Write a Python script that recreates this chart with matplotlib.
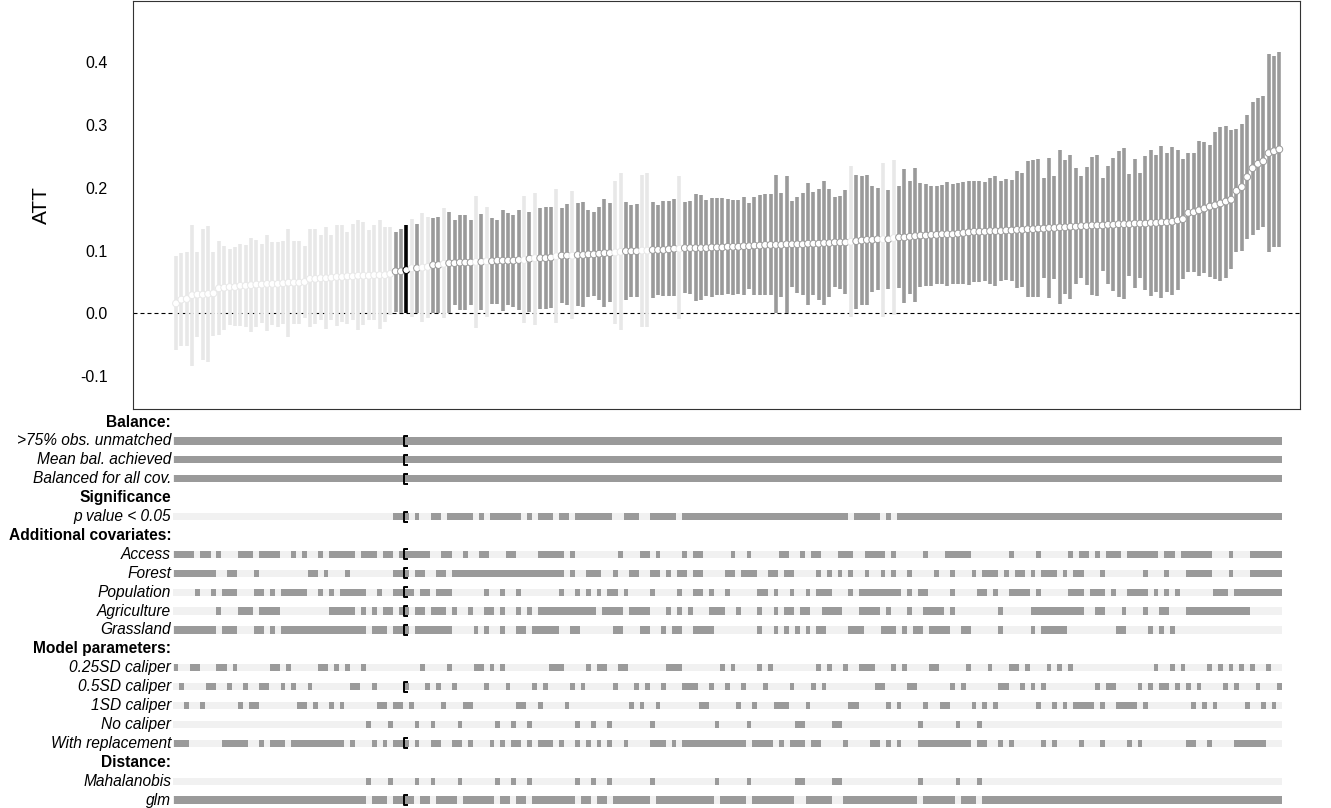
import numpy as np
import matplotlib.pyplot as plt
from matplotlib.path import Path

plt.rcParams["font.family"] = ["Liberation Sans", "DejaVu Sans"]
plt.rcParams["axes.unicode_minus"] = False

# ---- specification curve: ATT and 95% CI, sorted by estimate ----
att = [
    0.016, 0.022, 0.023, 0.029, 0.030, 0.030, 0.031, 0.032, 0.040, 0.041,
    0.042, 0.042, 0.044, 0.044, 0.045, 0.046, 0.046, 0.047, 0.047, 0.047,
    0.048, 0.049, 0.049, 0.049, 0.050, 0.055, 0.055, 0.056, 0.056, 0.057,
    0.058, 0.058, 0.059, 0.059, 0.060, 0.060, 0.060, 0.061, 0.061, 0.061,
    0.063, 0.067, 0.067, 0.069, 0.072, 0.072, 0.073, 0.074, 0.077, 0.077,
    0.079, 0.080, 0.080, 0.081, 0.081, 0.081, 0.082, 0.082, 0.083, 0.083,
    0.084, 0.084, 0.084, 0.084, 0.085, 0.085, 0.087, 0.088, 0.088, 0.088,
    0.089, 0.091, 0.092, 0.092, 0.092, 0.093, 0.093, 0.094, 0.094, 0.095,
    0.096, 0.096, 0.097, 0.098, 0.099, 0.099, 0.099, 0.100, 0.100, 0.101,
    0.101, 0.101, 0.102, 0.103, 0.103, 0.104, 0.104, 0.104, 0.104, 0.104,
    0.105, 0.105, 0.105, 0.106, 0.106, 0.106, 0.107, 0.107, 0.108, 0.108,
    0.109, 0.109, 0.109, 0.109, 0.110, 0.110, 0.110, 0.110, 0.111, 0.111,
    0.111, 0.112, 0.112, 0.113, 0.113, 0.113, 0.114, 0.115, 0.116, 0.117,
    0.117, 0.118, 0.118, 0.118, 0.120, 0.121, 0.121, 0.122, 0.123, 0.124,
    0.124, 0.125, 0.125, 0.126, 0.126, 0.126, 0.127, 0.128, 0.129, 0.130,
    0.130, 0.130, 0.131, 0.131, 0.131, 0.132, 0.132, 0.133, 0.133, 0.134,
    0.134, 0.135, 0.135, 0.136, 0.136, 0.137, 0.137, 0.138, 0.138, 0.139,
    0.139, 0.140, 0.140, 0.140, 0.141, 0.141, 0.142, 0.142, 0.142, 0.143,
    0.143, 0.143, 0.144, 0.144, 0.145, 0.145, 0.146, 0.148, 0.150, 0.160,
    0.161, 0.164, 0.167, 0.170, 0.172, 0.175, 0.178, 0.181, 0.195, 0.201,
    0.217, 0.231, 0.238, 0.242, 0.255, 0.258, 0.261,
]
ci_lo = [
    -0.058, -0.052, -0.052, -0.083, -0.038, -0.074, -0.077, -0.036, -0.035, -0.027,
    -0.019, -0.020, -0.020, -0.022, -0.030, -0.022, -0.015, -0.028, -0.019, -0.022,
    -0.016, -0.038, -0.016, -0.017, -0.007, -0.022, -0.016, -0.011, -0.024, -0.010,
    -0.020, -0.014, -0.016, -0.011, -0.027, -0.019, -0.011, -0.011, -0.024, -0.014,
    -0.002, 0.003, 0.001, 0.001, -0.006, 0.001, -0.014, -0.007, 0.001, 0.001,
    -0.007, 0.001, 0.013, 0.006, 0.006, 0.014, -0.023, 0.006, -0.005, 0.015,
    0.015, 0.004, 0.013, 0.010, 0.006, -0.015, 0.002, -0.018, 0.007, 0.007,
    0.009, -0.015, 0.017, 0.013, -0.009, 0.012, 0.011, 0.026, 0.027, 0.021,
    0.011, 0.018, -0.016, -0.027, 0.021, 0.026, 0.026, -0.021, -0.021, 0.024,
    0.029, 0.027, 0.027, 0.027, -0.009, 0.032, 0.031, 0.020, 0.021, 0.028,
    0.026, 0.029, 0.029, 0.031, 0.030, 0.031, 0.030, 0.039, 0.030, 0.030,
    0.030, 0.030, 0.001, 0.026, 0.001, 0.042, 0.032, 0.029, 0.014, 0.029,
    0.021, 0.013, 0.026, 0.042, 0.039, 0.031, -0.006, 0.007, 0.014, 0.014,
    0.034, 0.037, -0.005, 0.039, -0.003, 0.041, 0.016, 0.031, 0.018, 0.042,
    0.044, 0.044, 0.047, 0.047, 0.044, 0.047, 0.047, 0.047, 0.046, 0.050,
    0.050, 0.051, 0.047, 0.043, 0.052, 0.053, 0.051, 0.040, 0.042, 0.026,
    0.026, 0.026, 0.057, 0.024, 0.055, 0.015, 0.031, 0.023, 0.047, 0.057,
    0.046, 0.030, 0.028, 0.068, 0.047, 0.035, 0.026, 0.023, 0.060, 0.041,
    0.057, 0.037, 0.027, 0.034, 0.024, 0.034, 0.029, 0.037, 0.055, 0.066,
    0.066, 0.060, 0.064, 0.058, 0.055, 0.052, 0.057, 0.071, 0.097, 0.100,
    0.119, 0.125, 0.132, 0.138, 0.097, 0.106, 0.106,
]
ci_hi = [
    0.092, 0.096, 0.097, 0.140, 0.097, 0.134, 0.139, 0.098, 0.115, 0.107,
    0.103, 0.105, 0.110, 0.109, 0.120, 0.117, 0.111, 0.124, 0.113, 0.113,
    0.116, 0.134, 0.116, 0.116, 0.108, 0.134, 0.134, 0.124, 0.138, 0.124,
    0.140, 0.140, 0.129, 0.142, 0.149, 0.146, 0.132, 0.140, 0.149, 0.138,
    0.137, 0.130, 0.135, 0.141, 0.150, 0.143, 0.159, 0.154, 0.152, 0.154,
    0.167, 0.161, 0.149, 0.156, 0.157, 0.149, 0.187, 0.158, 0.170, 0.152,
    0.149, 0.165, 0.160, 0.157, 0.165, 0.187, 0.161, 0.191, 0.167, 0.169,
    0.170, 0.198, 0.168, 0.174, 0.195, 0.175, 0.177, 0.164, 0.162, 0.169,
    0.182, 0.176, 0.210, 0.223, 0.177, 0.173, 0.174, 0.221, 0.223, 0.178,
    0.173, 0.179, 0.179, 0.182, 0.218, 0.177, 0.179, 0.190, 0.189, 0.181,
    0.183, 0.184, 0.183, 0.182, 0.181, 0.180, 0.186, 0.176, 0.186, 0.189,
    0.190, 0.190, 0.221, 0.191, 0.219, 0.179, 0.186, 0.191, 0.207, 0.193,
    0.198, 0.211, 0.198, 0.185, 0.187, 0.196, 0.235, 0.221, 0.218, 0.220,
    0.202, 0.200, 0.239, 0.196, 0.244, 0.202, 0.230, 0.210, 0.231, 0.207,
    0.206, 0.203, 0.203, 0.205, 0.209, 0.206, 0.207, 0.209, 0.211, 0.211,
    0.211, 0.209, 0.215, 0.219, 0.210, 0.214, 0.212, 0.226, 0.224, 0.242,
    0.244, 0.246, 0.215, 0.247, 0.218, 0.260, 0.244, 0.252, 0.231, 0.219,
    0.233, 0.249, 0.252, 0.215, 0.235, 0.247, 0.258, 0.263, 0.222, 0.246,
    0.224, 0.251, 0.260, 0.252, 0.267, 0.255, 0.265, 0.260, 0.246, 0.255,
    0.255, 0.275, 0.272, 0.268, 0.289, 0.297, 0.298, 0.292, 0.293, 0.302,
    0.316, 0.337, 0.343, 0.346, 0.413, 0.410, 0.416,
]
best_spec = 43  # the preferred model, drawn in black

# ---- specification choices (index ranges, 0-based) ----
unmatched_75 = "0-206"
mean_balance = "0-206"
balance_all = "0-206"
access = ("0-3 5-6 8 12-14 16-19 22 24 27 29-33 35-37 39-40 42-47 50-51 54 57-58 "
          "62-63 68-72 74 83 87-88 90 95 97-98 104 107 113-114 117 119-120 124-126 "
          "129-132 134 140 144-148 156 161 167 169-170 172 174-176 178-183 185-186 "
          "188-193 197 201-206")
forest = ("0-7 10-11 15 25-26 28 32 41-43 45-46 49-50 52-72 74 77-79 82 85-86 89-90 "
          "92 94-95 97-98 103-104 106-108 111-112 114-115 120 122 124 126 129 132 134 "
          "137 142 145 149 151-153 155 157-158 160 162-164 166 168-169 173 181 185 "
          "189-193 197 201-206")
population = ("4 7 9-11 15-16 18 20-24 27 29 31-35 38 41-44 46-47 49-51 58 61 64 72 75 "
              "77 79 81-82 84 89 94 97-98 100 103 109-110 112 115 118 120-122 126 "
              "128-135 137 139-140 145 150-151 153 156-159 161 167-169 171-173 175 "
              "178-181 183 185 187 194-196 198-206")
agriculture = ("8 12-14 16-19 29-33 35 37 39-40 42-43 45-46 48-50 52 55 58-59 61 64 66 "
               "68-78 80-83 85-88 92 94 96 100-102 105 109 112 114-115 117-118 121-124 "
               "128-131 133 137 140-143 145 154 160-169 172-173 177 181 184-185 189-200")
grassland = ("0-7 9-11 15-16 18 20-35 37-39 41-43 45-51 56 58 61 64-65 67-71 74-75 "
             "82-83 87-88 91 93-94 97-100 109 112 114 116 118 120-121 126-128 132-134 "
             "136 138-139 141-144 147-148 154 160 162-166 176-177 182 184 186")
replacement = ("0-2 9-13 16 18-20 22-31 33 37 39 41-43 45 48-49 52-53 55 59 61 63-64 66 "
               "68-70 72 75 77 79 81 84 89-91 93 95-106 108-111 113 115-117 119-120 125 "
               "130-131 133 135 139-148 150-151 154 156 162 164 169 173 178 180 189-190 "
               "193 198-203")
# caliper per spec: a = 0.25SD, b = 0.5SD, c = 1SD, n = none (Mahalanobis)
caliper = ("abcaacbbaa" "bacbccbbaa" "babccbcaac" "acabbanbcc" "nccbcnabnb"
           "cabnccaaba" "nabnccnbcb" "aaacbnbana" "anbaacbcbn" "cbaaabbbcc"
           "bnabacbnca" "bacccbnncb" "abannaccaa" "abbcacabbn" "caaccbnbac"
           "ncacbbaaba" "bcbacacacc" "ccbcbbcccc" "bcbabbabab" "cbcacababa"
           "cabcacb")

DARK = "#9a9a9a"
LIGHT = "#e8e8e8"
STRIP = "#f1f1f1"

n_spec = len(att)
x = np.arange(n_spec)
att = np.array(att)
ci_lo = np.array(ci_lo)
ci_hi = np.array(ci_hi)


def to_mask(spec):
    mask = np.zeros(n_spec, dtype=bool)
    for part in spec.split():
        if "-" in part:
            a, b = part.split("-")
            mask[int(a):int(b) + 1] = True
        else:
            mask[int(part)] = True
    return mask


cal = np.array(list(caliper))
signif = ci_lo > 0

bar_col = np.where(signif, DARK, LIGHT).astype(object)
bar_col[best_spec] = "black"

fig = plt.figure(figsize=(13.31, 8.08), dpi=100)

# ---- top panel ----
ax = fig.add_axes([133 / 1331, 1 - 409 / 808, 1167 / 1331, 408 / 808])
xlim = (-8.03, 209.86)
ax.set_xlim(*xlim)
ax.set_ylim(-0.152, 0.497)

order = np.argsort([c != LIGHT for c in bar_col])  # light bars underneath
ax.vlines(x[order], ci_lo[order], ci_hi[order], colors=list(bar_col[order]),
          linewidth=2.6, capstyle="butt", zorder=2)
ax.axhline(0, color="black", linewidth=0.8, linestyle=(0, (3.6, 2.7)), zorder=1)
ax.scatter(x, att, s=24, facecolor="white", edgecolor=list(bar_col),
           linewidths=0.7, zorder=3)

ax.set_xticks([])
ax.set_yticks([-0.1, 0.0, 0.1, 0.2, 0.3, 0.4])
ax.set_yticklabels(["-0.1", "0.0", "0.1", "0.2", "0.3", "0.4"], fontsize=11.5)
ax.tick_params(axis="y", length=0, pad=18)
ax.set_ylabel("ATT", fontsize=15, labelpad=21)
for s in ax.spines.values():
    s.set_linewidth(0.8)
    s.set_color("#333333")

# ---- specification matrix ----
mx = fig.add_axes([133 / 1331, 0, 1167 / 1331, 396 / 808])
mx.set_xlim(*xlim)
mx.set_ylim(20.42, -0.53)
mx.axis("off")

rows = [
    ("Balance:", None),
    (">75% obs. unmatched", to_mask(unmatched_75)),
    ("Mean bal. achieved", to_mask(mean_balance)),
    ("Balanced for all cov.", to_mask(balance_all)),
    ("Significance", None),
    ("p value < 0.05", signif),
    ("Additional covariates:", None),
    ("Access", to_mask(access)),
    ("Forest", to_mask(forest)),
    ("Population", to_mask(population)),
    ("Agriculture", to_mask(agriculture)),
    ("Grassland", to_mask(grassland)),
    ("Model parameters:", None),
    ("0.25SD caliper", cal == "a"),
    ("0.5SD caliper", cal == "b"),
    ("1SD caliper", cal == "c"),
    ("No caliper", cal == "n"),
    ("With replacement", to_mask(replacement)),
    ("Distance:", None),
    ("Mahalanobis", cal == "n"),
    ("glm", cal != "n"),
]

bracket = Path([(0.45, -1.0), (-0.45, -1.0), (-0.45, 1.0), (0.45, 1.0)],
               [Path.MOVETO, Path.LINETO, Path.LINETO, Path.LINETO])
h = 0.38
gap = 0.12
for r, (label, mask) in enumerate(rows):
    if mask is None:
        mx.text(-0.9, r, label, ha="right", va="center", fontsize=11.2,
                fontweight="bold")
        continue
    mx.text(-0.9, r, label, ha="right", va="center", fontsize=11.2,
            style="italic")
    mx.broken_barh([(-0.5, n_spec)], (r - h / 2, h), facecolors=STRIP)
    # contiguous runs of selected specs
    edges = np.diff(np.concatenate([[0], mask.astype(int), [0]]))
    starts = np.where(edges == 1)[0]
    ends = np.where(edges == -1)[0]
    spans = [(s - 0.5 + gap / 2, e - s - gap) for s, e in zip(starts, ends)]
    mx.broken_barh(spans, (r - h / 2, h), facecolors=DARK)
    if mask[best_spec]:
        mx.plot(best_spec - 0.1, r, marker=bracket, markersize=6.5,
                markeredgewidth=1.4, markeredgecolor="black",
                markerfacecolor="none", linestyle="none")

fig.savefig("out.png", dpi=100)
